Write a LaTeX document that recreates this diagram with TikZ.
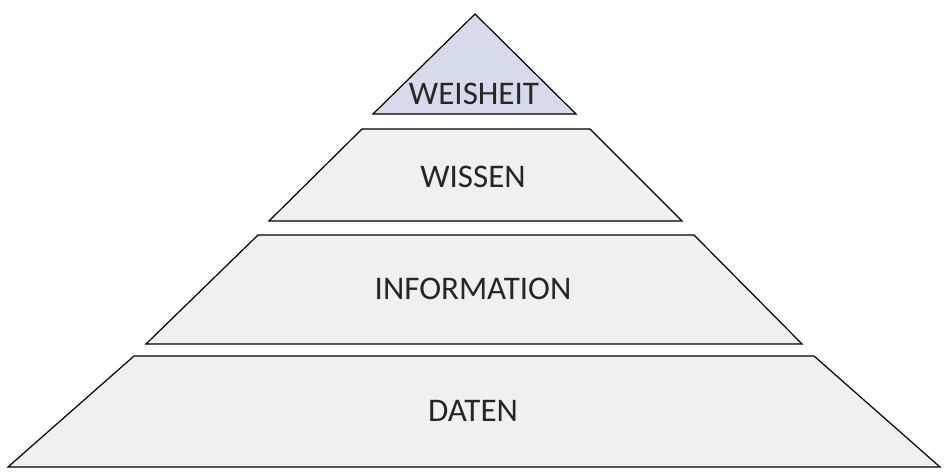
\documentclass[tikz,border=0pt]{standalone}
\usepackage{fontspec}
\setmainfont{Carlito}
\begin{document}
\begin{tikzpicture}[x=1pt,y=-1pt,
  lvl/.style={draw=black,line width=1.2pt,line join=miter,fill=gray!12},
  lab/.style={font=\fontsize{33}{38}\selectfont,text=black!85}]
\useasboundingbox[fill=white] (0,0) rectangle (944,471);
\draw[lvl,fill={rgb,255:red,214;green,219;blue,236}] (475,14) -- (576,114) -- (373,114) -- cycle;
\draw[lvl] (362,129) -- (590,129) -- (682,221) -- (269,221) -- cycle;
\draw[lvl] (258,235) -- (694,235) -- (802,344) -- (146,344) -- cycle;
\draw[lvl] (134,356) -- (814,356) -- (940,467) -- (8,467) -- cycle;
\node[lab] (w) at (474,94) {WEISHEIT};
\node[lab] (k) at (473,177) {WISSEN};
\node[lab] (i) at (473,289) {INFORMATION};
\node[lab] (d) at (473,411) {DATEN};
\end{tikzpicture}
\end{document}
